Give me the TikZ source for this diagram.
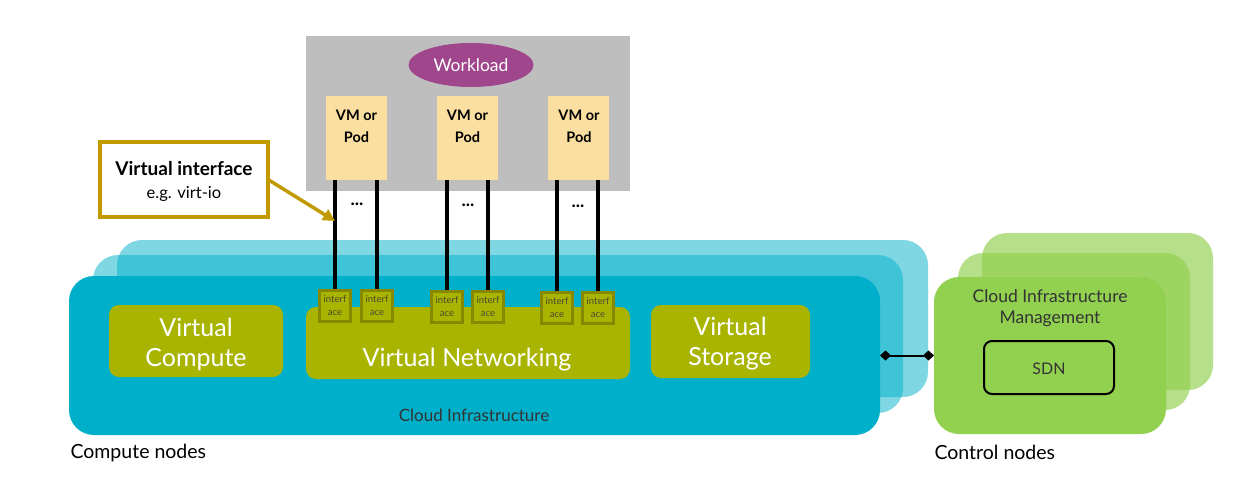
\documentclass[tikz,border=0pt]{standalone}
\usepackage{fontspec}
\setmainfont{Lato}
\usetikzlibrary{arrows.meta,shapes.geometric}
\definecolor{cblue}{HTML}{00B0CA}
\definecolor{cgreen}{HTML}{92D050}
\definecolor{olive}{HTML}{A8B400}
\definecolor{oliveb}{HTML}{858800}
\definecolor{wgray}{HTML}{BEBEBE}
\definecolor{purp}{HTML}{A0468C}
\definecolor{vmfill}{HTML}{FBDFA0}
\definecolor{gold}{HTML}{C09A00}
\definecolor{dtext}{HTML}{333333}
\definecolor{iftext}{HTML}{4A4A30}
\tikzset{
  box/.style={anchor=north west, inner sep=0pt, outer sep=0pt},
  olivebox/.style={box, fill=olive, rounded corners=10pt},
  bigtext/.style={text=white, align=center, font=\fontsize{25}{30}\selectfont},
  ifbox/.style={box, fill=olive, draw=oliveb, line width=3pt, minimum width=31pt, minimum height=31pt, align=center, text=iftext, font=\fontsize{9.5}{13}\selectfont},
  vmbox/.style={box, fill=vmfill, minimum width=61pt, minimum height=84pt},
  vmtext/.style={align=center, font=\bfseries\fontsize{14.5}{22}\selectfont},
  link/.style={line width=3.5pt, black},
  dots/.style={font=\bfseries\fontsize{18}{18}\selectfont},
  lbl/.style={anchor=west, font=\fontsize{19.5}{19.5}\selectfont},
}
\begin{document}
\begin{tikzpicture}[x=1pt,y=-1pt]
\useasboundingbox (0,0) rectangle (1248,492);
\fill[white] (0,0) rectangle (1248,492);
% back blue layers
\fill[cblue, opacity=0.5, rounded corners=25pt] (117,240) rectangle (928,397);
\fill[cblue, opacity=0.5, rounded corners=25pt] (93,255) rectangle (903,413);
\node[box, fill=cblue, rounded corners=25pt, minimum width=811pt, minimum height=159pt] (cinfra) at (69,276) {};
% back green layers
\fill[cgreen, opacity=0.68, rounded corners=25pt] (982,233) rectangle (1213,390);
\fill[cgreen, opacity=0.68, rounded corners=25pt] (958,253) rectangle (1190,410);
\node[box, fill=cgreen, rounded corners=25pt, minimum width=232pt, minimum height=157pt] (cim) at (934,277) {};
\node[align=center, text=dtext, font=\fontsize{17.5}{21}\selectfont] (cimt) at (1050,308) {Cloud Infrastructure\\Management};
\node[box, draw=black, line width=2pt, rounded corners=8pt, minimum width=130pt, minimum height=53pt] (sdn) at (984,341) {};
\node[text=dtext, font=\fontsize{16}{16}\selectfont] (sdnt) at (1049,368.5) {SDN};
\draw[line width=2pt, {Diamond[length=11pt,width=10pt]}-{Diamond[length=11pt,width=10pt]}] (cinfra.east) -- (cim.west);
% inner olive boxes
\node[olivebox, minimum width=174pt, minimum height=72pt] (vc) at (109,305) {};
\node[bigtext] (vct) at (196,344) {Virtual\\Compute};
\node[olivebox, minimum width=324pt, minimum height=72pt] (vn) at (306,307) {};
\node[bigtext] (vnt) at (467,360) {Virtual Networking};
\node[olivebox, minimum width=159pt, minimum height=73pt] (vs) at (651,305) {};
\node[bigtext] (vst) at (730,344) {Virtual\\Storage};
\node[text=dtext, font=\fontsize{17}{17}\selectfont] (cit) at (474,415) {Cloud Infrastructure};
% workload
\node[box, fill=wgray, minimum width=324pt, minimum height=155pt] (wl) at (306,36) {};
\node[ellipse, fill=purp, minimum width=125pt, minimum height=44pt, inner sep=0pt, text=white, font=\fontsize{17.5}{17.5}\selectfont] (wk) at (471,65) {Workload};
\node[vmbox] (vm1) at (326,96) {};
\node[vmbox] (vm2) at (437,96) {};
\node[vmbox] (vm3) at (548,96) {};
\node[vmtext] (vm1t) at (356.5,126) {VM or\\Pod};
\node[vmtext] (vm2t) at (467.5,126) {VM or\\Pod};
\node[vmtext] (vm3t) at (579,126) {VM or\\Pod};
% interfaces
\node[ifbox] (if1) at (319.5,290.5) {interf\\ace};
\node[ifbox] (if2) at (361.5,290.5) {interf\\ace};
\node[ifbox] (if3) at (431.5,291.5) {interf\\ace};
\node[ifbox] (if4) at (472.5,291.5) {interf\\ace};
\node[ifbox] (if5) at (541.5,292.5) {interf\\ace};
\node[ifbox] (if6) at (582.5,292.5) {interf\\ace};
\foreach \i/\v in {1/1,2/1,3/2,4/2,5/3,6/3}{
  \draw[link] (if\i.north |- vm\v.south) -- ([yshift=1.5pt]if\i.north);
}
\node[dots] (d1) at (357,204) {...};
\node[dots] (d2) at (468,205) {...};
\node[dots] (d3) at (578,206) {...};
% virtual interface callout
\node[box, draw=gold, line width=3.5pt, fill=white, minimum width=168pt, minimum height=75pt] (vif) at (100,142) {};
\node[font=\bfseries\fontsize{19}{19}\selectfont] (vift) at (184,169) {Virtual interface};
\node[font=\fontsize{16.5}{16.5}\selectfont] (vifs) at (184,194) {e.g. virt-io};
\coordinate (tip) at (335,221);
\draw[gold, line width=3.5pt, -{Triangle[length=12pt,width=12pt]}] (vif.east) -- (tip);
% labels
\node[lbl] (cn) at (67,453) {Compute nodes};
\node[lbl] (ctl) at (931,452) {Control nodes};
\end{tikzpicture}
\end{document}
